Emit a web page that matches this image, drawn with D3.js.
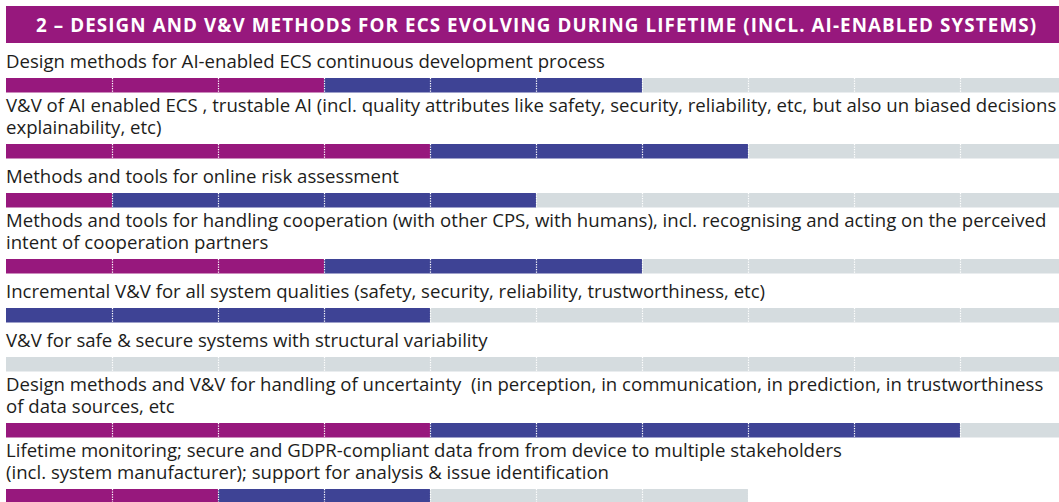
<!DOCTYPE html>
<html>
<head>
<meta charset="utf-8">
<script src="https://cdn.jsdelivr.net/npm/d3@7"></script>
<style>
  html, body { margin: 0; padding: 0; background: #ffffff; overflow: hidden; }
  svg { display: block; }
  text { font-family: "Open Sans", "Noto Sans", sans-serif; white-space: pre; }
</style>
</head>
<body>
<svg id="chart" width="1059" height="502"></svg>
<script>
// ---- Data ----
const title = "2 \u2013 DESIGN AND V&V METHODS FOR ECS EVOLVING DURING LIFETIME (INCL. AI-ENABLED SYSTEMS)";
const labels = [
  ["Design methods for AI-enabled ECS continuous development process"],
  ["V&V of AI enabled ECS , trustable AI (incl. quality attributes like safety, security, reliability, etc, but also un biased decisions",
   "explainability, etc)"],
  ["Methods and tools for online risk assessment"],
  ["Methods and tools for handling cooperation (with other CPS, with humans), incl. recognising and acting on the perceived",
   "intent of cooperation partners"],
  ["Incremental V&V for all system qualities (safety, security, reliability, trustworthiness, etc)"],
  ["V&V for safe & secure systems with structural variability"],
  ["Design methods and V&V for handling of uncertainty  (in perception, in communication, in prediction, in trustworthiness",
   "of data sources, etc"],
  ["Lifetime monitoring; secure and GDPR-compliant data from from device to multiple stakeholders",
   "(incl. system manufacturer); support for analysis & issue identification"]
];
const purpleSegments = [3, 4, 1, 3, 0, 0, 4, 2];
const blueSegments   = [3, 3, 4, 3, 4, 0, 5, 2];
const greySegments   = [4, 3, 5, 4, 6, 10, 1, 3];
const totalSlots = 10;

// ---- Styles / layout ----
const COLORS = { purple: "#97187d", blue: "#3e4395", grey: "#d5dcdf" };
const svg = d3.select("#chart");
const W = 1059;
const x = d3.scaleLinear().domain([0, totalSlots]).range([6, 1066]);

const barH = 14.5;
const lineH = 21.5;
const labelSize = 18.6;
// bar top positions from a simple linear layout (per label line and per row)
const perLine = 17, perRow = 32, firstBar = 78;
let cumLines = 0;
const rows = labels.map((lines, i) => {
  cumLines += lines.length;
  const barTop = firstBar + perLine * (cumLines - 1) + perRow * i;
  const segs = [];
  let k = 0;
  [["purple", purpleSegments[i]], ["blue", blueSegments[i]], ["grey", greySegments[i]]].forEach(([c, n]) => {
    for (let j = 0; j < n; j++) { segs.push({ c, k }); k++; }
  });
  return { i, lines, barTop, segs, n: k };
});

// ---- Header ----
svg.append("rect")
  .attr("x", 6).attr("y", 6).attr("width", W).attr("height", 37)
  .attr("fill", COLORS.purple);
svg.append("text")
  .attr("x", 36).attr("y", 32)
  .attr("fill", "#ffffff")
  .attr("font-size", 18.8).attr("font-weight", 700)
  .attr("textLength", 1000).attr("lengthAdjust", "spacing")
  .text(title);

// ---- Rows ----
const g = svg.selectAll("g.row").data(rows).join("g").attr("class", "row");

g.each(function(r) {
  const sel = d3.select(this);
  const lastBase = r.barTop - 10.5;
  const firstBase = lastBase - (r.lines.length - 1) * lineH;
  const t = sel.append("text")
    .attr("class", "lbl")
    .attr("x", 6)
    .attr("y", firstBase)
    .attr("fill", "#1d1d1b")
    .attr("font-size", labelSize);
  t.selectAll("tspan").data(r.lines).join("tspan")
    .attr("x", 6)
    .attr("dy", (d, j) => j === 0 ? 0 : lineH)
    .text(d => d);

  sel.selectAll("rect.seg").data(r.segs).join("rect")
    .attr("class", "seg")
    .attr("x", d => x(d.k))
    .attr("y", r.barTop)
    .attr("width", d => x(d.k + 1) - x(d.k))
    .attr("height", barH)
    .attr("fill", d => COLORS[d.c]);

  sel.selectAll("line.sep").data(d3.range(1, r.n + 1).filter(k => k < totalSlots)).join("line")
    .attr("class", "sep")
    .attr("x1", k => x(k) + 0.5).attr("x2", k => x(k) + 0.5)
    .attr("y1", r.barTop).attr("y2", r.barTop + barH)
    .attr("stroke", "#ffffff").attr("stroke-width", 1.2)
    .attr("stroke-dasharray", "1.2,1.3");
});
</script>
</body>
</html>
